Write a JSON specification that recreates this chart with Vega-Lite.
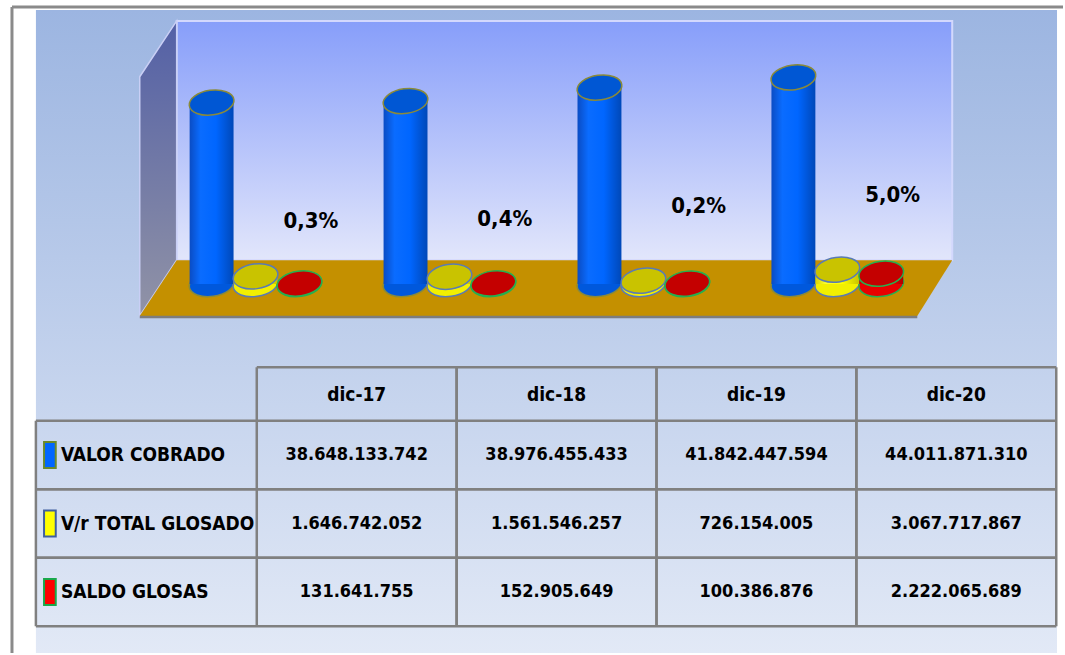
{
  "$schema": "https://vega.github.io/schema/vega-lite/v6.json",
  "width": 1065,
  "height": 655,
  "autosize": {"type": "fit", "contains": "padding"},
  "padding": 0,
  "background": "#ffffff",
  "config": {
    "view": {"stroke": null},
    "axis": {"disable": true},
    "legend": {"disable": true},
    "locale": {"number": {"decimal": ",", "thousands": ".", "grouping": [3], "currency": ["$", ""]}},
    "text": {"font": "DejaVu Sans Condensed", "fontWeight": "bold"}
  },
  "datasets": {
    "barras": [
      {"mes": "dic-17", "serie": "VALOR  COBRADO", "valor": 38648133742},
      {"mes": "dic-17", "serie": "V/r TOTAL GLOSADO", "valor": 1646742052},
      {"mes": "dic-17", "serie": "SALDO GLOSAS", "valor": 131641755},
      {"mes": "dic-18", "serie": "VALOR  COBRADO", "valor": 38976455433},
      {"mes": "dic-18", "serie": "V/r TOTAL GLOSADO", "valor": 1561546257},
      {"mes": "dic-18", "serie": "SALDO GLOSAS", "valor": 152905649},
      {"mes": "dic-19", "serie": "VALOR  COBRADO", "valor": 41842447594},
      {"mes": "dic-19", "serie": "V/r TOTAL GLOSADO", "valor": 726154005},
      {"mes": "dic-19", "serie": "SALDO GLOSAS", "valor": 100386876},
      {"mes": "dic-20", "serie": "VALOR  COBRADO", "valor": 44011871310},
      {"mes": "dic-20", "serie": "V/r TOTAL GLOSADO", "valor": 3067717867},
      {"mes": "dic-20", "serie": "SALDO GLOSAS", "valor": 2222065689}
    ],
    "etiquetas": [
      {"mes": "dic-17", "pct": "0,3%"},
      {"mes": "dic-18", "pct": "0,4%"},
      {"mes": "dic-19", "pct": "0,2%"},
      {"mes": "dic-20", "pct": "5,0%"}
    ]
  },
  "layer": [
    {
      "encoding": {
        "x": {"field": "x", "type": "quantitative", "scale": {"domain": [0, 1065], "nice": false, "zero": false}, "axis": null},
        "y": {"field": "y", "type": "quantitative", "scale": {"domain": [0, 655], "nice": false, "zero": false, "reverse": true}, "axis": null}
      },
      "layer": [
        {
          "data": {"values": [{"x": 36, "x2": 1059, "y": 10, "y2": 655}]},
          "mark": {"type": "rect", "fill": {"gradient": "linear", "x1": 0, "y1": 0, "x2": 0, "y2": 1, "stops": [{"offset": 0, "color": "#9cb5e1"}, {"offset": 1, "color": "#e2e9f6"}]}},
          "encoding": {"x2": {"field": "x2"}, "y2": {"field": "y2"}}
        },
        {
          "data": {"values": [{"x": 12, "y": 7, "x2": 1065, "y2": 7}, {"x": 12, "y": 7, "x2": 12, "y2": 655}]},
          "mark": {"type": "rule", "color": "#8a8a8a", "strokeWidth": 3},
          "encoding": {"x2": {"field": "x2"}, "y2": {"field": "y2"}}
        },
        {
          "data": {"values": [{"x": 177, "x2": 954, "y": 21, "y2": 261}]},
          "mark": {"type": "rect", "stroke": "#d3d8fd", "strokeWidth": 2, "fill": {"gradient": "linear", "x1": 0, "y1": 0, "x2": 0, "y2": 1, "stops": [{"offset": 0, "color": "#879efa"}, {"offset": 1, "color": "#e2e6fb"}]}},
          "encoding": {"x2": {"field": "x2"}, "y2": {"field": "y2"}}
        },
        {
          "data": {"values": [{"x": 140, "y": 77, "y2": 317}, {"x": 177, "y": 21, "y2": 261}]},
          "mark": {"type": "area", "orient": "vertical", "stroke": "#c9cff5", "strokeWidth": 1.5, "fill": {"gradient": "linear", "x1": 0, "y1": 0, "x2": 0, "y2": 1, "stops": [{"offset": 0, "color": "#5360a6"}, {"offset": 1, "color": "#9193a6"}]}},
          "encoding": {"y2": {"field": "y2"}}
        },
        {
          "data": {"values": [{"x": 140, "y": 317, "y2": 317}, {"x": 177, "y": 261, "y2": 317}, {"x": 919, "y": 261, "y2": 317}, {"x": 954, "y": 261, "y2": 261}]},
          "mark": {"type": "area", "orient": "vertical", "fill": "#c49000"},
          "encoding": {"y2": {"field": "y2"}}
        },
        {
          "data": {"values": [{"x": 140, "y": 318, "x2": 919, "y2": 318}]},
          "mark": {"type": "rule", "color": "#7d7d7d", "strokeWidth": 2.5},
          "encoding": {"x2": {"field": "x2"}, "y2": {"field": "y2"}}
        }
      ]
    },
    {
      "data": {"name": "barras"},
      "encoding": {
        "x": {"field": "mes", "type": "nominal", "scale": {"domain": ["dic-17", "dic-18", "dic-19", "dic-20"], "paddingInner": 0.3206, "paddingOuter": 0.9009, "align": 0.5427}, "axis": null},
        "y": {"field": "valor", "type": "quantitative", "stack": null, "scale": {"domain": [-78560000000, 60500000000], "nice": false, "zero": false}, "axis": null}
      },
      "layer": [
        {
          "mark": {"type": "point", "shape": "M -1 0 A 1 0.55 0 1 1 1 0 A 1 0.55 0 1 1 -1 0 Z", "filled": true, "size": 2025, "opacity": 1, "strokeWidth": 1.5, "angle": -8},
          "encoding": {
            "xOffset": {"field": "serie", "type": "nominal", "scale": {"domain": ["VALOR  COBRADO", "V/r TOTAL GLOSADO", "SALDO GLOSAS"], "paddingInner": 0, "paddingOuter": 0}},
            "y": {"datum": 0, "type": "quantitative"},
            "fill": {"condition": [{"test": "datum.serie === 'VALOR  COBRADO'", "value": "#0058dc"}, {"test": "datum.serie === 'V/r TOTAL GLOSADO'", "value": "#f2ef00"}], "value": "#e80000"},
            "stroke": {"condition": [{"test": "datum.serie === 'VALOR  COBRADO'", "value": "#8a8a3a"}, {"test": "datum.serie === 'V/r TOTAL GLOSADO'", "value": "#5a7bb5"}], "value": "#26b050"}
          }
        },
        {
          "mark": {"type": "bar"},
          "encoding": {
            "xOffset": {"field": "serie", "type": "nominal", "scale": {"domain": ["VALOR  COBRADO", "V/r TOTAL GLOSADO", "SALDO GLOSAS"], "paddingInner": 0, "paddingOuter": 0}},
            "y2": {"datum": 0},
            "fill": {
              "condition": [
                {"test": "datum.serie === 'VALOR  COBRADO'", "value": {"gradient": "linear", "x1": 0, "y1": 0, "x2": 1, "y2": 0, "stops": [{"offset": 0, "color": "#0a4cc4"}, {"offset": 0.25, "color": "#0a6cff"}, {"offset": 0.6, "color": "#0066ff"}, {"offset": 1, "color": "#0048b8"}]}},
                {"test": "datum.serie === 'V/r TOTAL GLOSADO'", "value": {"gradient": "linear", "x1": 0, "y1": 0, "x2": 1, "y2": 0, "stops": [{"offset": 0, "color": "#d8d400"}, {"offset": 0.25, "color": "#ffff30"}, {"offset": 0.6, "color": "#ffff00"}, {"offset": 1, "color": "#c8c400"}]}}
              ],
              "value": {"gradient": "linear", "x1": 0, "y1": 0, "x2": 1, "y2": 0, "stops": [{"offset": 0, "color": "#c00000"}, {"offset": 0.25, "color": "#ff2020"}, {"offset": 0.6, "color": "#ff0000"}, {"offset": 1, "color": "#b00000"}]}
            }
          }
        },
        {
          "mark": {"type": "point", "shape": "M -1 0 A 1 0.55 0 1 1 1 0 A 1 0.55 0 1 1 -1 0 Z", "filled": true, "size": 2025, "opacity": 1, "strokeWidth": 1.5, "angle": -8},
          "encoding": {
            "xOffset": {"field": "serie", "type": "nominal", "scale": {"domain": ["VALOR  COBRADO", "V/r TOTAL GLOSADO", "SALDO GLOSAS"], "paddingInner": 0, "paddingOuter": 0}},
            "fill": {"condition": [{"test": "datum.serie === 'VALOR  COBRADO'", "value": "#0057d4"}, {"test": "datum.serie === 'V/r TOTAL GLOSADO'", "value": "#c9c300"}], "value": "#c40000"},
            "stroke": {"condition": [{"test": "datum.serie === 'VALOR  COBRADO'", "value": "#8a8a3a"}, {"test": "datum.serie === 'V/r TOTAL GLOSADO'", "value": "#5a7bb5"}], "value": "#26b050"}
          }
        },
        {
          "transform": [
            {"filter": "datum.serie === 'VALOR  COBRADO'"},
            {"lookup": "mes", "from": {"data": {"name": "etiquetas"}, "key": "mes", "fields": ["pct"]}}
          ],
          "mark": {"type": "text", "fontSize": 22, "dy": 118, "baseline": "middle", "align": "center", "color": "#000000"},
          "encoding": {
            "x": {"field": "mes", "type": "nominal", "bandPosition": 0.92, "scale": {"domain": ["dic-17", "dic-18", "dic-19", "dic-20"], "paddingInner": 0.3206, "paddingOuter": 0.9009, "align": 0.5427}, "axis": null},
            "text": {"field": "pct"}
          }
        }
      ]
    },
    {
      "data": {"name": "barras"},
      "encoding": {
        "x": {"field": "mes", "type": "nominal", "scale": {"domain": ["label", "dic-17", "dic-18", "dic-19", "dic-20"], "paddingInner": 0, "paddingOuter": 0.1592, "align": 0.894}, "axis": null},
        "y": {"field": "serie", "type": "nominal", "scale": {"domain": ["encabezado", "VALOR  COBRADO", "V/r TOTAL GLOSADO", "SALDO GLOSAS"], "paddingInner": 0, "paddingOuter": 0, "range": [352.25, 626.25]}, "axis": null}
      },
      "layer": [
        {
          "transform": [{"filter": "datum.mes === 'dic-17'"}],
          "mark": {"type": "rule", "color": "#808080", "strokeWidth": 2.5, "xOffset": -21},
          "encoding": {
            "x": {"datum": "label", "type": "nominal", "bandPosition": 0},
            "x2": {"datum": "dic-20", "bandPosition": 1},
            "y": {"field": "serie", "type": "nominal", "bandPosition": 0}
          }
        },
        {
          "transform": [{"filter": "datum.mes === 'dic-17'"}],
          "mark": {"type": "rule", "color": "#808080", "strokeWidth": 2.5, "xOffset": -21},
          "encoding": {
            "x": {"datum": "label", "type": "nominal", "bandPosition": 0},
            "x2": {"datum": "dic-20", "bandPosition": 1},
            "y": {"field": "serie", "type": "nominal", "bandPosition": 1}
          }
        },
        {
          "transform": [{"filter": "datum.mes === 'dic-17' && datum.serie === 'VALOR  COBRADO'"}],
          "mark": {"type": "rule", "color": "#808080", "strokeWidth": 2.5, "yOffset": 15},
          "encoding": {
            "x": {"datum": "dic-17", "type": "nominal", "bandPosition": 0},
            "x2": {"datum": "dic-20", "bandPosition": 1},
            "y": {"datum": "encabezado", "type": "nominal", "bandPosition": 0}
          }
        },
        {
          "transform": [{"filter": "datum.serie === 'VALOR  COBRADO'"}],
          "mark": {"type": "rule", "color": "#808080", "strokeWidth": 2.5, "yOffset": 15},
          "encoding": {
            "x": {"field": "mes", "type": "nominal", "bandPosition": 0},
            "y": {"datum": "encabezado", "type": "nominal", "bandPosition": 0},
            "y2": {"datum": "SALDO GLOSAS", "bandPosition": 1}
          }
        },
        {
          "transform": [{"filter": "datum.serie === 'VALOR  COBRADO'"}],
          "mark": {"type": "rule", "color": "#808080", "strokeWidth": 2.5, "yOffset": 15},
          "encoding": {
            "x": {"field": "mes", "type": "nominal", "bandPosition": 1},
            "y": {"datum": "encabezado", "type": "nominal", "bandPosition": 0},
            "y2": {"datum": "SALDO GLOSAS", "bandPosition": 1}
          }
        },
        {
          "transform": [{"filter": "datum.mes === 'dic-17' && datum.serie === 'VALOR  COBRADO'"}],
          "mark": {"type": "rule", "color": "#808080", "strokeWidth": 2.5, "xOffset": -21},
          "encoding": {
            "x": {"datum": "label", "type": "nominal", "bandPosition": 0},
            "y": {"datum": "VALOR  COBRADO", "type": "nominal", "bandPosition": 0},
            "y2": {"datum": "SALDO GLOSAS", "bandPosition": 1}
          }
        },
        {
          "transform": [{"filter": "datum.serie === 'VALOR  COBRADO'"}],
          "mark": {"type": "text", "fontSize": 19, "dy": 8, "baseline": "middle", "align": "center", "color": "#000000"},
          "encoding": {
            "y": {"datum": "encabezado", "type": "nominal"},
            "text": {"field": "mes"}
          }
        },
        {
          "mark": {"type": "text", "fontSize": 18, "baseline": "middle", "align": "center", "color": "#000000"},
          "encoding": {
            "text": {"field": "valor", "type": "quantitative", "format": ",.0f"}
          }
        },
        {
          "transform": [{"filter": "datum.mes === 'dic-17'"}],
          "mark": {"type": "text", "fontSize": 19, "baseline": "middle", "align": "left", "dx": 4, "color": "#000000"},
          "encoding": {
            "x": {"datum": "label", "type": "nominal", "bandPosition": 0},
            "text": {"field": "serie"}
          }
        },
        {
          "transform": [{"filter": "datum.mes === 'dic-17'"}],
          "mark": {"type": "point", "shape": "M -0.45 -1 L 0.45 -1 L 0.45 1 L -0.45 1 Z", "filled": true, "size": 676, "opacity": 1, "strokeWidth": 2, "xOffset": -7},
          "encoding": {
            "x": {"datum": "label", "type": "nominal", "bandPosition": 0},
            "fill": {"condition": [{"test": "datum.serie === 'VALOR  COBRADO'", "value": "#0066ff"}, {"test": "datum.serie === 'V/r TOTAL GLOSADO'", "value": "#ffff00"}], "value": "#ff0000"},
            "stroke": {"condition": [{"test": "datum.serie === 'VALOR  COBRADO'", "value": "#6b8a2a"}, {"test": "datum.serie === 'V/r TOTAL GLOSADO'", "value": "#3f5f9f"}], "value": "#1aa84a"}
          }
        }
      ]
    }
  ],
  "resolve": {"scale": {"x": "independent", "y": "independent"}}
}
